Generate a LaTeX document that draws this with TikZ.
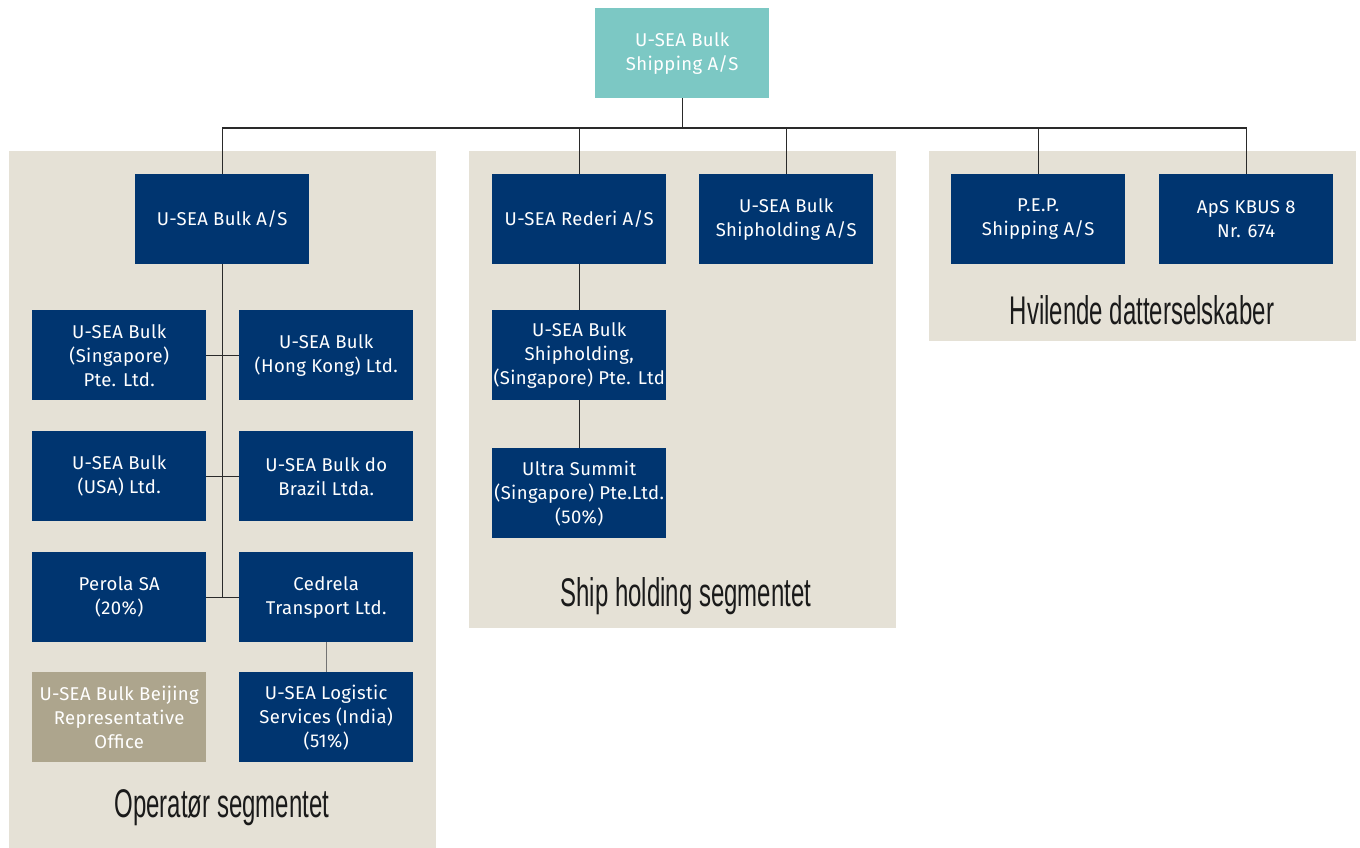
\documentclass[tikz,border=0pt]{standalone}
\usepackage{fontspec}
\setmainfont[LetterSpace=2]{Fira Sans}
\newfontfamily\condfont[FakeStretch=0.6]{Liberation Sans}
\definecolor{navy}{HTML}{003570}
\definecolor{teal}{HTML}{7CC8C4}
\definecolor{panel}{HTML}{E5E1D6}
\definecolor{khaki}{HTML}{ADA58D}
\definecolor{linec}{HTML}{2A2A2A}
\definecolor{titlec}{HTML}{1A1A1A}
\begin{document}
\begin{tikzpicture}[x=1pt,y=-1pt,
  box/.style={fill=navy,text=white,minimum width=174pt,minimum height=90pt,inner sep=0pt,anchor=north west,align=center,font=\fontsize{18.5}{24}\selectfont},
  conn/.style={draw=linec,line width=1.1pt},
  seglabel/.style={text=titlec,font=\condfont\fontsize{40}{42}\selectfont,inner sep=0pt}]
\useasboundingbox (0,0) rectangle (1360,848);
% panels
\fill[panel] (9,151) rectangle (436,848);
\fill[panel] (469,151) rectangle (896,628);
\fill[panel] (929,151) rectangle (1356,341);
% top
\node[box,fill=teal] (top) at (595,8) {U-SEA Bulk\\Shipping A/S};
% operator
\node[box] (bulk) at (135,174) {U-SEA Bulk A/S};
\node[box] (sg) at (32,310) {U-SEA Bulk\\(Singapore)\\Pte. Ltd.};
\node[box] (hk) at (239,310) {U-SEA Bulk\\(Hong Kong) Ltd.};
\node[box] (usa) at (32,431) {U-SEA Bulk\\(USA) Ltd.};
\node[box] (br) at (239,431) {U-SEA Bulk do\\Brazil Ltda.};
\node[box] (per) at (32,552) {Perola SA\\(20\%)};
\node[box] (ced) at (239,552) {Cedrela\\Transport Ltd.};
\node[box,fill=khaki] (bj) at (32,672) {U-SEA Bulk Beijing\\Representative\\Office};
\node[box] (log) at (239,672) {U-SEA Logistic\\Services (India)\\(51\%)};
% ship holding
\node[box] (red) at (492,174) {U-SEA Rederi A/S};
\node[box] (sha) at (699,174) {U-SEA Bulk\\Shipholding A/S};
\node[box] (shs) at (492,310) {U-SEA Bulk\\Shipholding,\\(Singapore) Pte. Ltd};
\node[box] (ult) at (492,448) {Ultra Summit\\(Singapore) Pte.Ltd.\\(50\%)};
% dormant
\node[box] (pep) at (951,174) {P.E.P.\\Shipping A/S};
\node[box] (kb) at (1159,174) {ApS KBUS 8\\Nr. 674};
% labels
\node[seglabel] (l1) at (222,808) {Operatør segmentet};
\node[seglabel] (l2) at (686,596) {Ship holding segmentet};
\node[seglabel] (l3) at (1142,310) {Hvilende datterselskaber};
% connectors
\coordinate (bus) at (0,128);
\draw[conn] (top.south) -- (top.south |- bus);
\draw[conn] (bulk.north) -- (bulk.north |- bus) -- (kb.north |- bus) -- (kb.north);
\draw[conn] (red.north) -- (red.north |- bus);
\draw[conn] (sha.north) -- (sha.north |- bus);
\draw[conn] (pep.north) -- (pep.north |- bus);
\draw[conn] (bulk.south) -- (bulk.south |- per.east);
\draw[conn] (sg.east) -- (hk.west);
\draw[conn] (usa.east) -- (br.west);
\draw[conn] (per.east) -- (ced.west);
\draw[conn,draw=gray!90!black] (ced.south) -- (log.north);
\draw[conn] (red.south) -- (shs.north);
\draw[conn] (shs.south) -- (ult.north);
\end{tikzpicture}
\end{document}
